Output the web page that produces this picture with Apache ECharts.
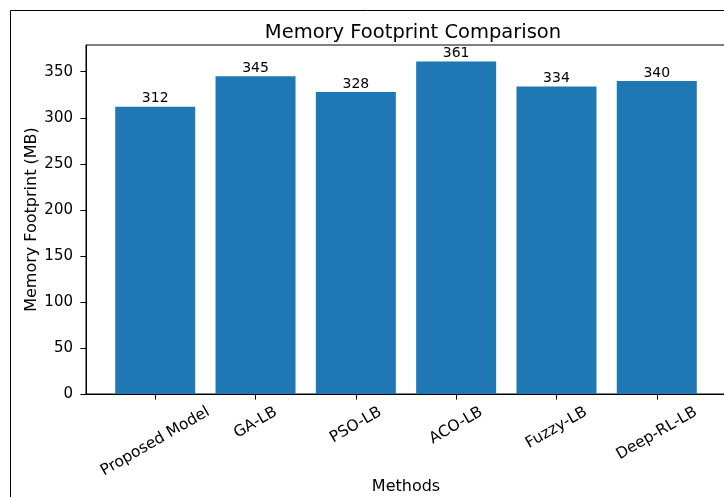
<!DOCTYPE html>
<html>
<head>
<meta charset="utf-8">
<script src="https://cdn.jsdelivr.net/npm/echarts@6/dist/echarts.min.js"></script>
<style>
html,body{margin:0;padding:0;background:#fff;}
#main{width:724px;height:497px;}
</style>
</head>
<body>
<div id="main"></div>
<script>
const categories = ['Proposed Model', 'GA-LB', 'PSO-LB', 'ACO-LB', 'Fuzzy-LB', 'Deep-RL-LB'];
const memoryMB = [312, 345, 328, 361, 334, 340];
const yTicks = [0, 50, 100, 150, 200, 250, 300, 350];

const FONT = 'DejaVu Sans';
const chart = echarts.init(document.getElementById('main'), null, {renderer: 'canvas'});

const yMax = Math.max.apply(null, memoryMB) * 1.05;
const xMin = -0.4 - 0.05 * (categories.length - 1 + 0.8);
const xMax = categories.length - 1 + 0.4 + 0.05 * (categories.length - 1 + 0.8);

const option = {
  animation: false,
  backgroundColor: '#fff',
  title: {
    text: 'Memory Footprint Comparison',
    left: 408, top: 18, textAlign: 'center',
    textStyle: {fontFamily: FONT, fontSize: 19.5, fontWeight: 'normal', color: '#000'}
  },
  grid: {
    left: 86, top: 45, width: 640, height: 349,
    outerBoundsMode: 'none', containLabel: false,
    show: true, borderColor: '#000', borderWidth: 1, backgroundColor: 'transparent'
  },
  xAxis: {
    type: 'value', min: xMin, max: xMax,
    name: 'Methods', nameLocation: 'middle', nameGap: 85, nameMoveOverlap: false,
    nameTextStyle: {fontFamily: FONT, fontSize: 16, color: '#000'},
    axisLine: {show: true, onZero: false, lineStyle: {color: '#000', width: 1}},
    axisTick: {show: true, length: 5.6, lineStyle: {color: '#000'}, customValues: categories.map((c, i) => i)},
    axisLabel: {show: false, customValues: categories.map((c, i) => i)},
    splitLine: {show: false}
  },
  yAxis: {
    type: 'value', min: 0, max: yMax, interval: 50,
    name: 'Memory Footprint (MB)', nameLocation: 'middle', nameGap: 46, nameMoveOverlap: false,
    nameTextStyle: {fontFamily: FONT, fontSize: 16, color: '#000'},
    axisLine: {show: true, onZero: false, lineStyle: {color: '#000', width: 1}},
    axisTick: {show: true, length: 5.6, lineStyle: {color: '#000'}, customValues: yTicks},
    axisLabel: {fontFamily: FONT, fontSize: 15, color: '#000', margin: 13, customValues: yTicks},
    splitLine: {show: false}
  },
  series: [{
    type: 'bar',
    data: memoryMB.map((v, i) => [i, v]),
    barWidth: 80,
    itemStyle: {color: '#1f77b4'},
    label: {
      show: true, position: 'top', distance: 1,
      fontFamily: FONT, fontSize: 14, color: '#000'
    }
  }]
};
chart.setOption(option);

// rotated category labels, centred under each tick like matplotlib
const ctx = document.createElement('canvas').getContext('2d');
const LBL_SIZE = 15.5;
ctx.font = LBL_SIZE + 'px "' + FONT + '"';
const axisY = chart.convertToPixel({yAxisIndex: 0}, 0);
const ang = Math.PI / 6;
const h = LBL_SIZE * 1.17;
const graphics = [
  {type: 'rect', shape: {x: 10.5, y: 10.5, width: 2000, height: 2000},
   style: {fill: 'none', stroke: '#000', lineWidth: 1}, silent: true, z: 100}
];
categories.forEach((c, i) => {
  const w = ctx.measureText(c).width;
  const H = Math.sin(ang) * w + Math.cos(ang) * h;
  const tx = chart.convertToPixel({xAxisIndex: 0}, i);
  graphics.push({
    type: 'text', x: tx, y: axisY + 9 + H / 2, rotation: ang,
    style: {text: c, x: 0, y: 0, align: 'center', verticalAlign: 'middle',
            font: LBL_SIZE + 'px "' + FONT + '"', fill: '#000'}
  });
});
chart.setOption({graphic: graphics});
</script>
</body>
</html>
